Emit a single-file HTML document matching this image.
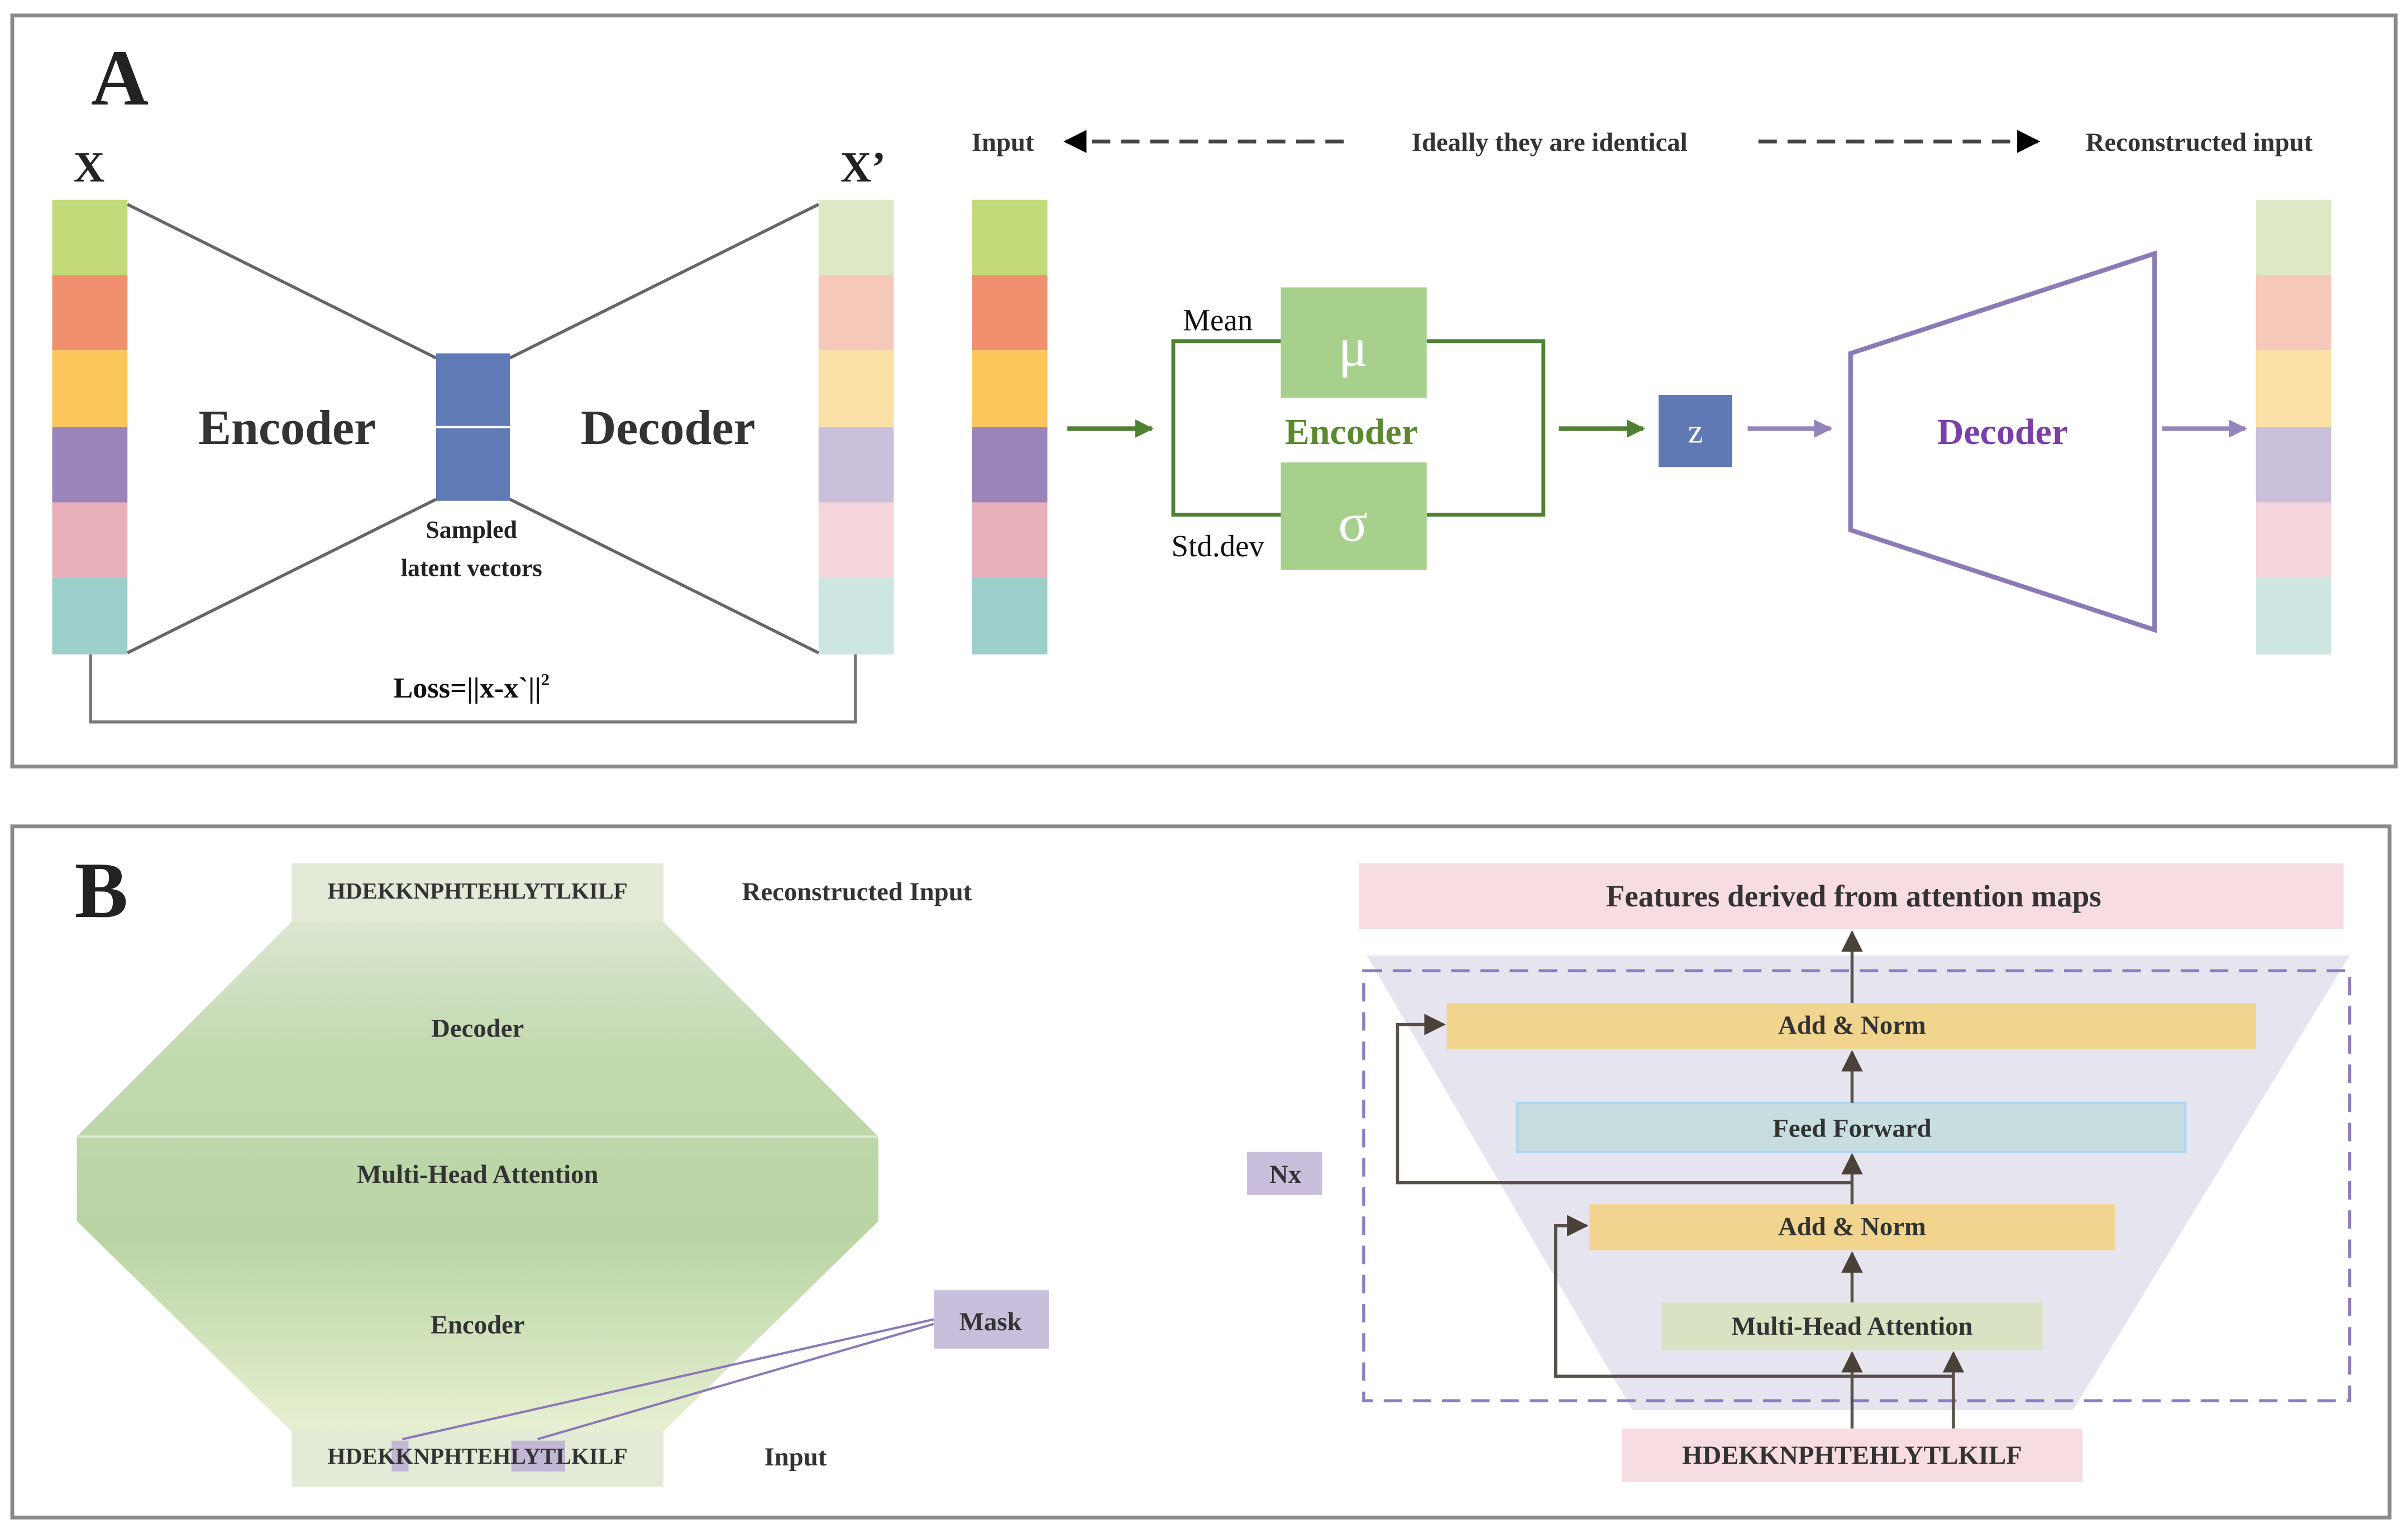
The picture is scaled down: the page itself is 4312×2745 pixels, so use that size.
<!DOCTYPE html>
<html><head><meta charset="utf-8"><style>
html,body{margin:0;padding:0;background:#fff;}
svg{display:block;}
text{font-family:"Liberation Serif",serif;}
</style></head><body>
<svg width="4312" height="2745" viewBox="0 0 1568 998" xmlns="http://www.w3.org/2000/svg">
<defs>
<linearGradient id="oct" x1="0" y1="0" x2="0" y2="1">
<stop offset="0" stop-color="#e6ede0"/>
<stop offset="0.3" stop-color="#c3d9b0"/>
<stop offset="0.6" stop-color="#b9d4a4"/>
<stop offset="0.9" stop-color="#e6efd0"/>
<stop offset="1" stop-color="#e3ebd8"/>
</linearGradient>
<marker id="ag" viewBox="0 0 10 10" refX="9" refY="5" markerWidth="4" markerHeight="4" orient="auto"><path d="M0,0L10,5L0,10z" fill="#4f8132"/></marker>
<marker id="ap" viewBox="0 0 10 10" refX="9" refY="5" markerWidth="4" markerHeight="4" orient="auto"><path d="M0,0L10,5L0,10z" fill="#9483bd"/></marker>
<marker id="ab" viewBox="0 0 10 10" refX="9" refY="5" markerWidth="6" markerHeight="6" orient="auto"><path d="M0,0L10,5L0,10z" fill="#000"/></marker>
<marker id="ad" viewBox="0 0 10 10" refX="9" refY="5" markerWidth="7" markerHeight="7" orient="auto"><path d="M0,0L10,5L0,10z" fill="#4a4238"/></marker>
</defs>
<rect width="1568" height="998" fill="#fff"/>
<!-- Panel A -->
<rect x="8" y="10" width="1552" height="489" fill="none" stroke="#8a8a8a" stroke-width="2.5"/>
<text x="78" y="68" font-size="52" font-weight="bold" text-anchor="middle" fill="#222">A</text>
<text x="58" y="118" font-size="28" font-weight="bold" text-anchor="middle" fill="#222">X</text>
<text x="562" y="118" font-size="28" font-weight="bold" text-anchor="middle" fill="#222">X’</text>
<g>
<rect x="34" y="130" width="49" height="49" fill="#c3da7a"/><rect x="34" y="179" width="49" height="49" fill="#f0906e"/><rect x="34" y="228" width="49" height="50" fill="#fcc75a"/><rect x="34" y="278" width="49" height="49" fill="#9a85ba"/><rect x="34" y="327" width="49" height="49" fill="#e9afba"/><rect x="34" y="376" width="49" height="50" fill="#9dcfca"/>
<rect x="533" y="130" width="49" height="49" fill="#dde9c4"/><rect x="533" y="179" width="49" height="49" fill="#f7c9bb"/><rect x="533" y="228" width="49" height="50" fill="#fbe1a6"/><rect x="533" y="278" width="49" height="49" fill="#cbc0dc"/><rect x="533" y="327" width="49" height="49" fill="#f4d6dc"/><rect x="533" y="376" width="49" height="50" fill="#cde6e2"/>
<rect x="633" y="130" width="49" height="49" fill="#c3da7a"/><rect x="633" y="179" width="49" height="49" fill="#f0906e"/><rect x="633" y="228" width="49" height="50" fill="#fcc75a"/><rect x="633" y="278" width="49" height="49" fill="#9a85ba"/><rect x="633" y="327" width="49" height="49" fill="#e9afba"/><rect x="633" y="376" width="49" height="50" fill="#9dcfca"/>
<rect x="1469" y="130" width="49" height="49" fill="#dde9c4"/><rect x="1469" y="179" width="49" height="49" fill="#f7c9bb"/><rect x="1469" y="228" width="49" height="50" fill="#fbe1a6"/><rect x="1469" y="278" width="49" height="49" fill="#cbc0dc"/><rect x="1469" y="327" width="49" height="49" fill="#f4d6dc"/><rect x="1469" y="376" width="49" height="50" fill="#cde6e2"/>
</g>
<g stroke="#666" stroke-width="2" fill="none">
<line x1="83" y1="133" x2="284" y2="233"/><line x1="83" y1="425" x2="284" y2="325"/>
<line x1="533" y1="133" x2="332" y2="233"/><line x1="533" y1="425" x2="332" y2="325"/>
<polyline points="59,426 59,470 557,470 557,426" stroke="#777"/>
</g>
<rect x="284" y="230" width="48" height="96" fill="#5f7ab5"/>
<line x1="284" y1="278" x2="332" y2="278" stroke="#fff" stroke-width="1.5"/>
<text x="187" y="289" font-size="32" font-weight="bold" text-anchor="middle" fill="#333">Encoder</text>
<text x="435" y="289" font-size="32" font-weight="bold" text-anchor="middle" fill="#333">Decoder</text>
<text x="307" y="350" font-size="16" font-weight="bold" text-anchor="middle" fill="#222">Sampled</text>
<text x="307" y="375" font-size="16" font-weight="bold" text-anchor="middle" fill="#222">latent vectors</text>
<text x="307" y="454" font-size="19" font-weight="bold" text-anchor="middle" fill="#111">Loss=||x-x`||<tspan font-size="11" dy="-8">2</tspan></text>
<!-- top labels -->
<text x="653" y="98" font-size="17" font-weight="bold" text-anchor="middle" fill="#333">Input</text>
<text x="1009" y="98" font-size="17" font-weight="bold" text-anchor="middle" fill="#333">Ideally they are identical</text>
<text x="1432" y="98" font-size="17" font-weight="bold" text-anchor="middle" fill="#333">Reconstructed input</text>
<line x1="875" y1="92" x2="694" y2="92" stroke="#444" stroke-width="2.5" stroke-dasharray="12,7" marker-end="url(#ab)"/>
<line x1="1145" y1="92" x2="1327" y2="92" stroke="#444" stroke-width="2.5" stroke-dasharray="12,7" marker-end="url(#ab)"/>
<!-- VAE -->
<line x1="695" y1="279" x2="750" y2="279" stroke="#4f8132" stroke-width="3" marker-end="url(#ag)"/>
<polyline points="834,222 764,222 764,335 834,335" fill="none" stroke="#4f8132" stroke-width="2.5"/>
<polyline points="929,222 1005,222 1005,335 929,335" fill="none" stroke="#4f8132" stroke-width="2.5"/>
<rect x="834" y="187" width="95" height="72" fill="#a8d08d"/>
<rect x="834" y="301" width="95" height="70" fill="#a8d08d"/>
<text x="881" y="238" font-size="36" text-anchor="middle" fill="#fff" font-family="DejaVu Sans">μ</text>
<text x="881" y="352" font-size="36" text-anchor="middle" fill="#fff" font-family="DejaVu Sans">σ</text>
<text x="880" y="289" font-size="24" font-weight="bold" text-anchor="middle" fill="#5a8a2e">Encoder</text>
<text x="793" y="215" font-size="20" text-anchor="middle" fill="#111">Mean</text>
<text x="793" y="362" font-size="20" text-anchor="middle" fill="#111">Std.dev</text>
<line x1="1015" y1="279" x2="1070" y2="279" stroke="#4f8132" stroke-width="3" marker-end="url(#ag)"/>
<rect x="1080" y="257" width="48" height="47" fill="#6079b4"/>
<text x="1104" y="288" font-size="22" text-anchor="middle" fill="#fff">z</text>
<line x1="1138" y1="279" x2="1192" y2="279" stroke="#9483bd" stroke-width="3" marker-end="url(#ap)"/>
<polygon points="1205,230 1403,165 1403,410 1205,345" fill="none" stroke="#8c79b8" stroke-width="3"/>
<text x="1304" y="289" font-size="24" font-weight="bold" text-anchor="middle" fill="#7a3fa8">Decoder</text>
<line x1="1408" y1="279" x2="1462" y2="279" stroke="#9483bd" stroke-width="3" marker-end="url(#ap)"/>

<!-- Panel B -->
<rect x="8" y="538" width="1548" height="450" fill="none" stroke="#8a8a8a" stroke-width="2.5"/>
<text x="66" y="597" font-size="52" font-weight="bold" text-anchor="middle" fill="#222">B</text>
<polygon points="190,562 432,562 432,600 572,740 572,795 432,932 432,968 190,968 190,932 50,795 50,740 190,600" fill="url(#oct)"/>
<rect x="190" y="562" width="242" height="38" fill="#e3ebd8"/>
<rect x="190" y="932" width="242" height="36" fill="#e3ebd8"/>
<line x1="50" y1="740" x2="572" y2="740" stroke="#dde8d2" stroke-width="1.5"/>
<text x="311" y="585" font-size="15" font-weight="bold" text-anchor="middle" fill="#333">HDEKKNPHTEHLYTLKILF</text>
<text x="311" y="675" font-size="17" font-weight="bold" text-anchor="middle" fill="#333">Decoder</text>
<text x="311" y="770" font-size="17" font-weight="bold" text-anchor="middle" fill="#333">Multi-Head Attention</text>
<text x="311" y="868" font-size="17" font-weight="bold" text-anchor="middle" fill="#333">Encoder</text>
<rect x="255" y="938" width="11" height="20" fill="#b8a9d3" opacity="0.8"/>
<rect x="333" y="938" width="35" height="20" fill="#b8a9d3" opacity="0.8"/>
<text x="311" y="953" font-size="15" font-weight="bold" text-anchor="middle" fill="#333">HDEKKNPHTEHLYTLKILF</text>
<text x="558" y="586" font-size="17" font-weight="bold" text-anchor="middle" fill="#333">Reconstructed Input</text>
<text x="518" y="954" font-size="17" font-weight="bold" text-anchor="middle" fill="#333">Input</text>
<line x1="608" y1="859" x2="262" y2="937" stroke="#8c79b8" stroke-width="1.5"/>
<line x1="608" y1="862" x2="350" y2="937" stroke="#8c79b8" stroke-width="1.5"/>
<rect x="608" y="840" width="75" height="38" fill="#c9bfdc"/>
<text x="645" y="866" font-size="17" font-weight="bold" text-anchor="middle" fill="#333">Mask</text>

<!-- transformer -->
<rect x="885" y="562" width="641" height="43" fill="#f7dde2"/>
<text x="1207" y="590" font-size="20" font-weight="bold" text-anchor="middle" fill="#333">Features derived from attention maps</text>
<polygon points="890,622 1530,622 1350,918 1063,918" fill="#e6e4ef"/>
<rect x="888" y="632" width="642" height="280" fill="none" stroke="#8e7cc3" stroke-width="2" stroke-dasharray="12,7"/>
<rect x="942" y="653" width="527" height="30" fill="#f1d58e"/>
<rect x="988" y="718" width="435" height="32" fill="#c8dde0" stroke="#abd6f1" stroke-width="1.5"/>
<rect x="1035" y="784" width="342" height="30" fill="#f1d58e"/>
<rect x="1082" y="848" width="248" height="31" fill="#d9e3c3"/>
<rect x="1056" y="930" width="300" height="35" fill="#f7dde2"/>
<rect x="812" y="750" width="49" height="28" fill="#c9bfdc"/>
<text x="837" y="770" font-size="17" font-weight="bold" text-anchor="middle" fill="#333">Nx</text>
<text x="1206" y="673" font-size="17" font-weight="bold" text-anchor="middle" fill="#333">Add &amp; Norm</text>
<text x="1206" y="740" font-size="17" font-weight="bold" text-anchor="middle" fill="#333">Feed Forward</text>
<text x="1206" y="804" font-size="17" font-weight="bold" text-anchor="middle" fill="#333">Add &amp; Norm</text>
<text x="1206" y="869" font-size="17" font-weight="bold" text-anchor="middle" fill="#333">Multi-Head Attention</text>
<text x="1206" y="953" font-size="17" font-weight="bold" text-anchor="middle" fill="#333">HDEKKNPHTEHLYTLKILF</text>
<g stroke="#5a524a" stroke-width="2" fill="none">
<line x1="1206" y1="930" x2="1206" y2="881" marker-end="url(#ad)"/>
<line x1="1272" y1="930" x2="1272" y2="881" marker-end="url(#ad)"/>
<line x1="1206" y1="848" x2="1206" y2="816" marker-end="url(#ad)"/>
<line x1="1206" y1="784" x2="1206" y2="752" marker-end="url(#ad)"/>
<line x1="1206" y1="718" x2="1206" y2="685" marker-end="url(#ad)"/>
<line x1="1206" y1="653" x2="1206" y2="607" marker-end="url(#ad)"/>
<polyline points="1272,896 1013,896 1013,798 1033,798" marker-end="url(#ad)"/>
<polyline points="1206,770 910,770 910,667 940,667" marker-end="url(#ad)"/>
</g>
</svg>
</body></html>
